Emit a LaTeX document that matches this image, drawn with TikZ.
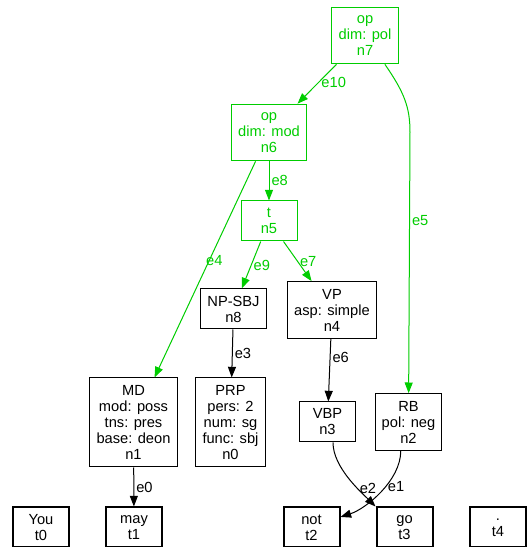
\documentclass[tikz,border=0pt]{standalone}
\usepackage{fontspec}
\setmainfont{Liberation Sans}
\usetikzlibrary{arrows.meta}
\definecolor{opgreen}{RGB}{0,205,0}
\tikzset{
	box/.style={draw, align=center, font=\fontsize{11}{12}\selectfont, inner xsep=5pt, inner ysep=2pt, minimum width=42pt, minimum height=30pt, line width=0.75pt},
	tall/.style={minimum height=42.5pt},
	taller/.style={minimum height=66.75pt},
	opbox/.style={box, draw=opgreen, text=opgreen},
	tok/.style={box, line width=1.5pt},
	lbl/.style={font=\fontsize{11}{12}\selectfont, inner sep=1.5pt},
	arc/.style={-{Triangle[length=8pt,width=6pt]}, line width=0.75pt},
	oparc/.style={arc, opgreen}
}
\begin{document}
\begin{tikzpicture}[x=0.75pt,y=0.75pt]
	\useasboundingbox (0,0) rectangle (530,547);
	\node[opbox,tall] (n7) at (365,511.5) {op\\dim: pol\\n7};
	\node[opbox,tall] (n6) at (269,414.5) {op\\dim: mod\\n6};
	\node[opbox] (n5) at (269,326) {t\\n5};
	\node[box] (n8) at (233.5,238) {NP-SBJ\\n8};
	\node[box,tall] (n4) at (332,237) {VP\\asp: simple\\n4};
	\node[box,taller] (n1) at (133.5,124.5) {MD\\mod: poss\\tns: pres\\base: deon\\n1};
	\node[box,taller] (n0) at (230.5,124.5) {PRP\\pers: 2\\num: sg\\func: sbj\\n0};
	\node[box] (n3) at (327.5,125) {VBP\\n3};
	\node[box,tall] (n2) at (408.5,125) {RB\\pol: neg\\n2};
	\node[tok] (t0) at (41,19.5) {You\\t0};
	\node[tok] (t1) at (134,19.5) {may\\t1};
	\node[tok] (t2) at (311.5,19.5) {not\\t2};
	\node[tok] (t3) at (404.5,19.5) {go\\t3};
	\node[tok] (t4) at (498,19.5) {.\\t4};

	\draw[oparc] (n7) -- node[lbl,right,pos=.45] {e10} (n6);
	\draw[oparc] (n6) -- node[lbl,right] {e8} (n5);
	\draw[oparc] (n6) -- node[lbl,right,pos=.46,xshift=-4pt] {e4} (n1);
	\draw[oparc] (n5) -- node[lbl,right] {e9} (n8);
	\draw[oparc] (n5) -- node[lbl,right] {e7} (n4);
	\draw[oparc] (n7) .. controls (404,455) and (410,440) .. (410,415) -- node[lbl,right,pos=.34] {e5} (n2);
	\draw[arc] (n8) -- node[lbl,right] {e3} (n0);
	\draw[arc] (n4) -- node[lbl,right,pos=.3] {e6} (n3);
	\draw[arc] (n1) -- node[lbl,right] {e0} (t1);
	\draw[arc] (n3.-75) .. controls +(0,-25) and +(-14,14) .. node[lbl,right,pos=.65] {e2} (t3.north west);
	\draw[arc] (n2.-105) .. controls +(0,-30) and +(25,8) .. node[lbl,right,pos=.42] {e1} (t2.20);
\end{tikzpicture}
\end{document}
